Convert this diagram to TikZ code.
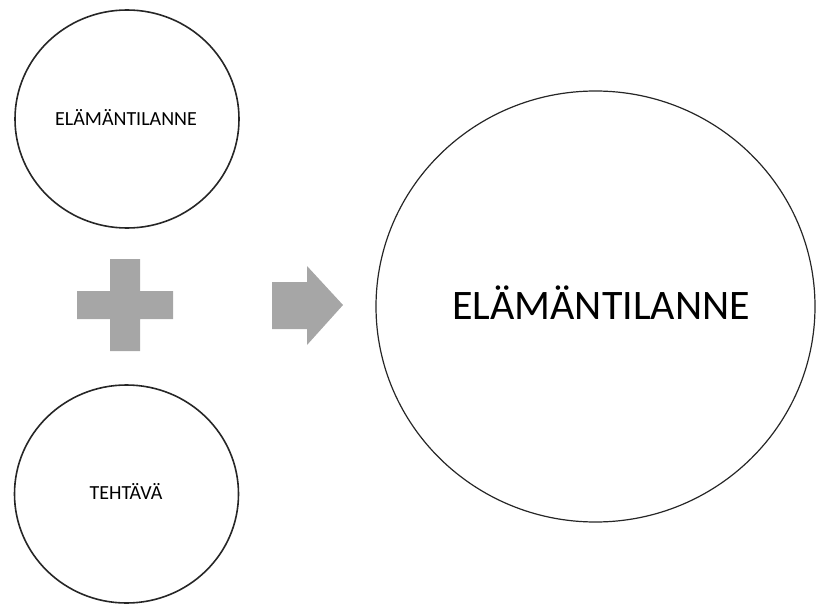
\documentclass[tikz,border=0pt]{standalone}
\usepackage{fontspec}
\setmainfont{Carlito}
\definecolor{shapegray}{HTML}{A6A6A6}
\tikzset{
  smallcirc/.style={draw=black!85, line width=1.6pt},
  bigcirc/.style={draw=black!85, line width=1.2pt},
  lbl/.style={font=\fontsize{20}{22}\selectfont},
  biglbl/.style={font=\fontsize{42}{46}\selectfont},
  grayshape/.style={fill=shapegray, draw=none}
}
\begin{document}
\begin{tikzpicture}[x=1pt,y=-1pt]
\useasboundingbox (0,0) rectangle (816,604);
% small circles
\draw[smallcirc] (127,119) ellipse [x radius=112, y radius=109];
\node[lbl] (c1) at (126,117) {ELÄMÄNTILANNE};
\draw[smallcirc] (126.5,494) ellipse [x radius=112, y radius=109];
\node[lbl] (c2) at (126,491) {TEHTÄVÄ};
% big circle
\draw[bigcirc] (595.5,306.5) ellipse [x radius=219.5, y radius=215.5];
\node[biglbl] (c3) at (601,303) {ELÄMÄNTILANNE};
% plus
\fill[grayshape] (110,259) -- (140,259) -- (140,291) -- (173,291) -- (173,319) -- (140,319) -- (140,351) -- (110,351) -- (110,319) -- (77,319) -- (77,291) -- (110,291) -- cycle;
% arrow
\fill[grayshape] (272,282) -- (307,282) -- (307,266) -- (343,305) -- (307,345) -- (307,329) -- (272,329) -- cycle;
\end{tikzpicture}
\end{document}
